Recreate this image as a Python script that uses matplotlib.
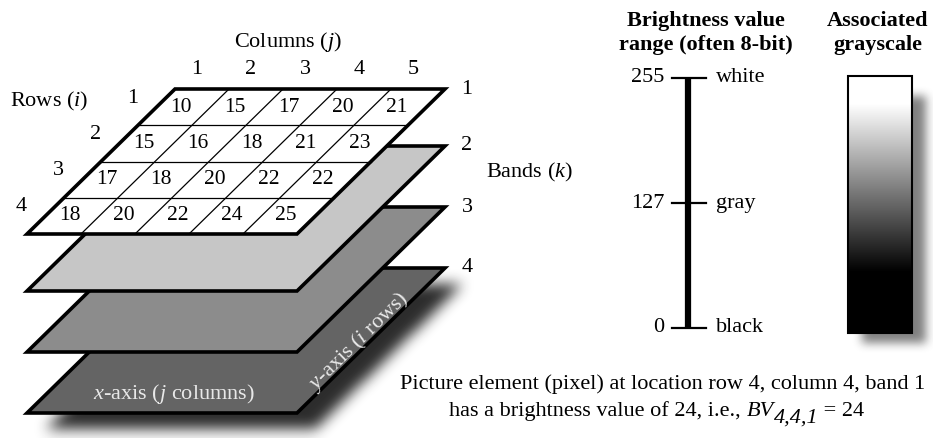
import numpy as np
import matplotlib
matplotlib.use("Agg")
import matplotlib.pyplot as plt
from matplotlib.path import Path as MPath
from matplotlib.patches import Polygon, Rectangle

plt.rcParams["font.family"] = "Liberation Serif"
plt.rcParams["mathtext.fontset"] = "custom"
plt.rcParams["mathtext.rm"] = "Liberation Serif"
plt.rcParams["mathtext.it"] = "Liberation Serif:italic"
plt.rcParams["mathtext.bf"] = "Liberation Serif:bold"

W, H = 933, 438

# values shown in band 1 (rows i x columns j)
brightness = [
    [10, 15, 17, 20, 21],
    [15, 16, 18, 21, 23],
    [17, 18, 20, 22, 22],
    [18, 20, 22, 24, 25],
]
column_labels = ["1", "2", "3", "4", "5"]
row_labels = ["1", "2", "3", "4"]
band_labels = ["1", "2", "3", "4"]
band_fill = ["white", "#c6c6c6", "#8c8c8c", "#646464"]
scale_values = [0, 127, 255]
scale_names = ["black", "gray", "white"]

# stack geometry, in pixels
X0, Y0 = 175, 89
CELL_W, CELL_H, SLANT = 54, 36.25, 37
BAND_OFFSETS = [0, 57, 118, 179]


def grid_xy(u, v, band=0):
    return X0 + u * CELL_W - v * SLANT, Y0 + v * CELL_H + BAND_OFFSETS[band]


def layer_corners(band, dx=0, dy=0):
    nr, nc = len(brightness), len(brightness[0])
    pts = [grid_xy(0, 0, band), grid_xy(nc, 0, band), grid_xy(nc, nr, band), grid_xy(0, nr, band)]
    return [(x + dx, y + dy) for x, y in pts]


def box_blur(a, r, axis):
    pad = [(0, 0), (0, 0)]
    pad[axis] = (r + 1, r)
    c = np.cumsum(np.pad(a, pad, mode="edge"), axis=axis)
    if axis == 0:
        return (c[2 * r + 1:] - c[:-2 * r - 1]) / (2 * r + 1)
    return (c[:, 2 * r + 1:] - c[:, :-2 * r - 1]) / (2 * r + 1)


def soft_shadow(poly, r, passes=3):
    yy, xx = np.mgrid[0:H, 0:W] + 0.5
    pts = np.column_stack([xx.ravel(), yy.ravel()])
    mask = MPath(poly + [poly[0]], closed=True).contains_points(pts).astype(float).reshape(H, W)
    for _ in range(passes):
        mask = box_blur(box_blur(mask, r, 0), r, 1)
    return mask


fig = plt.figure(figsize=(W / 100, H / 100), dpi=100)
ax = fig.add_axes([0, 0, 1, 1])
ax.set_xlim(0, W)
ax.set_ylim(H, 0)
ax.axis("off")

# shadows under the bottom band and the grayscale bar
gx0, gy0, gx1, gy1 = 848, 76, 912, 333
shadow = soft_shadow(layer_corners(3, 18, 16), 6) * 0.92
box_shadow = soft_shadow(
    [(gx0 + 14, gy0 + 20), (gx1 + 14, gy0 + 20), (gx1 + 14, gy1 + 10), (gx0 + 14, gy1 + 10)], 4) * 0.55
rgba = np.zeros((H, W, 4))
rgba[..., :3] = 0.1
rgba[..., 3] = np.clip(np.maximum(shadow, box_shadow), 0, 1)
ax.imshow(rgba, extent=(0, W, H, 0), zorder=1, interpolation="bilinear")

# bands, bottom first
for b in range(len(band_labels) - 1, -1, -1):
    ax.add_patch(Polygon(layer_corners(b), closed=True, fc=band_fill[b], ec="black",
                         lw=2.6, joinstyle="miter", zorder=5 + (3 - b) * 2))
    cx, cy = grid_xy(len(column_labels), 0, b)
    ax.text(cx + 22, cy, band_labels[b], ha="center", va="center", fontsize=16)

# grid of band 1
nr, nc = len(brightness), len(brightness[0])
for v in range(1, nr):
    (xa, ya), (xb, yb) = grid_xy(0, v), grid_xy(nc, v)
    ax.plot([xa, xb], [ya, yb], color="black", lw=0.9, zorder=12)
for u in range(1, nc):
    (xa, ya), (xb, yb) = grid_xy(u, 0), grid_xy(u, nr)
    ax.plot([xa, xb], [ya, yb], color="black", lw=0.9, zorder=12)
for v, row in enumerate(brightness):
    for u, val in enumerate(row):
        x, y = grid_xy(u + 0.45, v + 0.5)
        ax.text(x, y, str(val), ha="center", va="center", fontsize=15.5, zorder=13,
                bbox=dict(fc="white", ec="none", pad=0.3))

for u, lab in enumerate(column_labels):
    x, y = grid_xy(u + 0.5, 0)
    ax.text(x - 5, y - 19, lab, ha="center", va="center", fontsize=16)
for v, lab in enumerate(row_labels):
    x, y = grid_xy(0, v + 0.5)
    ax.text(x - 24, y - 9, lab, ha="center", va="center", fontsize=16)

ax.text(288, 42, r"Columns ($j$)", ha="center", va="center", fontsize=16)
ax.text(10, 101, r"Rows ($i$)", ha="left", va="center", fontsize=16)
ax.text(486, 172, r"Bands ($k$)", ha="left", va="center", fontsize=16)
ax.text(174, 394, r"$x$-axis ($j$ columns)", ha="center", va="center", fontsize=16,
        color="#e8e8e8", zorder=20)
ax.text(359, 341, r"$y$-axis ($i$ rows)", ha="center", va="center", fontsize=16,
        color="#e8e8e8", rotation=44.4, rotation_mode="anchor", zorder=20)

# brightness value scale
ax.text(706, 33, "Brightness value\nrange (often 8-bit)", ha="center", va="center",
        fontsize=16, fontweight="bold", linespacing=1.25)
ax.text(878, 33, "Associated\ngrayscale", ha="center", va="center",
        fontsize=16, fontweight="bold", linespacing=1.25)

bax = fig.add_axes([640 / W, 1 - 328 / H, 100 / W, 250 / H])
bax.set_xlim(640, 740)
bax.set_ylim(scale_values[0], scale_values[-1])
bax.axis("off")
bax.plot([688, 688], [scale_values[0], scale_values[-1]], color="black", lw=4.5,
         solid_capstyle="butt", clip_on=False)
for val, name in zip(scale_values, scale_names):
    bax.plot([672, 706], [val, val], color="black", lw=1.6, clip_on=False)
    bax.text(664, val, str(val), ha="right", va="center", fontsize=16)
    bax.text(716, val, name, ha="left", va="center", fontsize=16)

# associated grayscale bar
ramp = np.linspace(scale_values[-1], scale_values[0], 256).reshape(-1, 1)
ax.imshow(ramp, cmap="gray", vmin=60, vmax=228, aspect="auto",
          extent=(gx0, gx1, gy1, gy0), zorder=3, interpolation="bilinear")
ax.add_patch(Rectangle((gx0, gy0), gx1 - gx0, gy1 - gy0, fill=False, ec="black", lw=1.5, zorder=4))

# caption
ax.text(663, 384, "Picture element (pixel) at location row 4, column 4, band 1",
        ha="center", va="center", fontsize=16)
pieces = [("has a brightness value of 24, i.e., ", "normal", 0),
          ("BV", "italic", 0),
          ("4,4,1", "italic", 7),
          (" = 24", "normal", 0)]
renderer = fig.canvas.get_renderer()
runs = []
for s, style, dy in pieces:
    t = ax.text(0, 416 + dy, s, ha="left", va="baseline", fontsize=16, fontstyle=style)
    runs.append((t, t.get_window_extent(renderer).width))
x = 657 - sum(w for _, w in runs) / 2
for t, w in runs:
    t.set_x(x)
    x += w

fig.savefig("out.png", dpi=100)
